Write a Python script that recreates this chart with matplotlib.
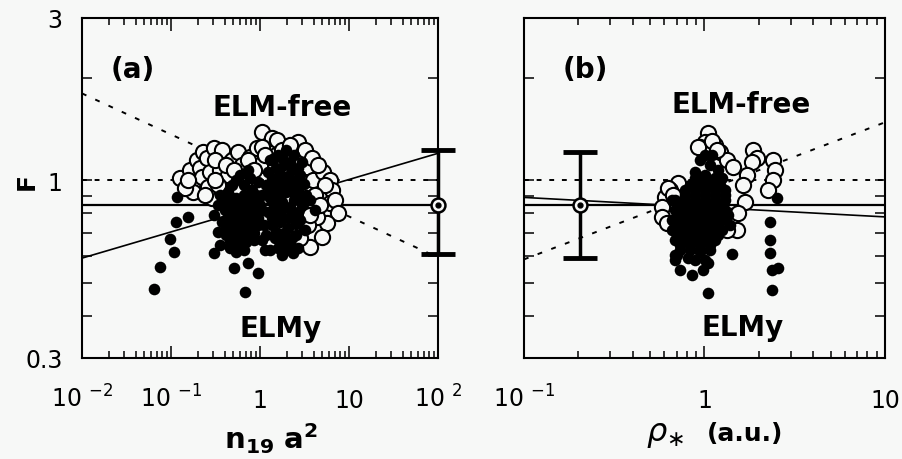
import numpy as np
import matplotlib.pyplot as plt
from matplotlib.ticker import FixedLocator, FixedFormatter, NullFormatter, LogLocator

# ---- panel (a): F vs n19 a^2 ----
a_open_x = [0.126, 0.163, 0.177, 0.177, 0.196, 0.212, 0.223, 0.229, 0.254, 0.26,
            0.274, 0.289, 0.304, 0.355, 0.374, 0.374, 0.437, 0.484, 0.566, 0.628,
            0.772, 0.925, 1.053, 1.23, 1.364, 1.513, 2.67, 3.37, 3.94, 5.1,
            6.12, 6.44, 6.12, 6.96, 7.52, 5.66, 4.37, 4.97, 3.65, 3.46,
            2.47, 2.35, 2.81, 2.01, 0.678, 0.537, 0.337, 0.1435, 1.0, 1.81,
            1.55, 1.053, 0.312, 0.415, 0.51, 0.733, 0.857, 1.137, 1.767, 2.173,
            3.2, 3.84, 4.49, 5.37, 4.15, 4.72, 3.65, 2.81, 0.46, 0.241,
            0.155, 0.312]
a_open_F = [1.014, 1.072, 0.988, 0.923, 1.146, 1.087, 1.021, 1.211, 1.161, 0.955,
            1.057, 0.887, 1.244, 1.072, 1.227, 0.923, 1.035, 1.146, 1.211, 1.108,
            1.17, 1.244, 1.386, 1.268, 1.33, 1.186, 1.295, 1.094, 1.0, 1.057,
            1.0, 0.935, 0.857, 0.875, 0.8, 0.748, 0.78, 0.681, 0.635, 0.738,
            0.754, 0.699, 0.828, 0.875, 1.0, 0.935, 0.968, 0.948, 1.108, 1.146,
            1.31, 1.256, 1.146, 1.108, 1.072, 1.146, 1.072, 1.186, 1.227, 1.268,
            1.227, 1.161, 1.108, 0.968, 0.904, 0.845, 0.79, 0.676, 0.875, 0.904,
            1.0, 1.0]

a_fill_x = [0.355, 0.437, 0.537, 0.661, 0.813, 0.95, 0.404, 0.497, 0.612, 0.752,
            0.925, 0.374, 0.46, 0.566, 0.696, 0.857, 1.053, 0.415, 0.51, 0.628,
            0.772, 0.95, 0.46, 0.566, 0.696, 0.857, 0.596, 0.733, 0.484, 1.053,
            0.337, 0.355, 0.304,
            0.394, 0.484, 0.596, 0.733, 0.902, 0.437, 0.537, 0.661, 0.813, 1.0,
            0.415, 0.51, 0.628, 0.772, 0.95, 0.46, 0.566, 0.696, 0.857, 0.537,
            0.661, 0.537, 0.661, 0.772, 0.437, 0.337,
            1.295, 1.593, 1.96, 2.41, 2.96, 1.23, 1.513, 1.861, 2.289, 2.81,
            1.167, 1.436, 1.767, 2.173, 2.67, 3.29, 1.295, 1.593, 1.96, 2.41,
            2.96, 1.23, 1.513, 1.861, 2.289, 2.81, 1.364, 1.678, 2.064, 2.54,
            1.474, 1.767, 2.173, 2.67, 1.295, 1.053, 1.109, 3.65, 4.15, 3.2,
            1.436, 1.767, 2.173, 2.67, 1.364, 1.678, 2.064, 2.54, 3.12, 1.295,
            1.593, 1.96, 2.41, 2.96, 1.436, 1.767, 2.173, 2.67, 1.364, 1.678,
            2.064, 2.54, 1.513, 1.861, 2.289, 1.96, 1.593, 1.167,
            0.117, 0.114, 0.155, 0.0975, 0.108, 0.0752, 0.0644, 0.304, 0.51, 0.733,
            0.678, 0.95, 1.137, 1.767, 2.35, 1.767]
a_fill_F = [0.904, 0.875, 0.887, 0.904, 0.935, 0.988, 0.817, 0.806, 0.828, 0.845,
            0.875, 0.754, 0.738, 0.754, 0.774, 0.79, 0.817, 0.69, 0.676, 0.699,
            0.713, 0.738, 0.631, 0.644, 0.658, 0.667, 1.035, 1.072, 0.968, 0.904,
            0.705, 0.644, 0.79,
            0.857, 0.845, 0.863, 0.887, 0.904, 0.78, 0.785, 0.8, 0.817, 0.845,
            0.718, 0.713, 0.728, 0.743, 0.774, 0.662, 0.676, 0.685, 0.699, 0.615,
            0.623, 1.0, 0.968, 1.014, 0.923, 0.845,
            1.146, 1.186, 1.227, 1.186, 1.13, 1.057, 1.087, 1.108, 1.072, 1.035,
            0.968, 0.988, 1.0, 0.968, 0.935, 0.904, 0.887, 0.904, 0.923, 0.875,
            0.845, 0.806, 0.817, 0.828, 0.79, 0.764, 0.738, 0.754, 0.723, 0.69,
            0.676, 0.667, 0.644, 0.631, 0.623, 0.667, 0.738, 0.875, 0.817, 0.713,
            1.161, 1.161, 1.13, 1.087, 1.014, 1.042, 1.028, 1.0, 0.975, 0.935,
            0.948, 0.955, 0.917, 0.893, 0.845, 0.863, 0.834, 0.806, 0.774, 0.79,
            0.774, 0.743, 0.705, 0.699, 0.676, 0.623, 0.631, 0.69,
            0.893, 0.754, 0.78, 0.672, 0.615, 0.556, 0.479, 0.611, 0.552, 0.571,
            0.469, 0.533, 0.623, 0.603, 0.611, 0.658]

a_fit_x, a_fit_F = [0.01, 100], [0.59, 1.20]
a_bound_x, a_bound_F = [0.01, 90], [1.80, 0.60]
a_err_x, a_err_F, a_err_lo, a_err_hi = 100, 0.845, 0.605, 1.23

# ---- panel (b): F vs rho* ----
b_open_x = [1.045, 1.007, 0.944, 1.143, 1.072, 1.218, 1.333, 1.438, 0.714, 0.644,
            0.604, 0.582, 0.582, 0.62, 1.856, 1.954, 2.397, 2.459, 2.397, 2.248,
            1.832, 1.718, 1.634, 1.675, 1.533, 1.513, 1.333, 0.92, 0.628, 0.67,
            1.1, 1.173]
b_open_F = [1.377, 1.295, 1.256, 1.268, 1.211, 1.211, 1.146, 1.094, 0.981, 0.935,
            0.893, 0.834, 0.78, 0.748, 1.227, 1.161, 1.146, 1.072, 1.0, 0.935,
            1.13, 1.035, 0.968, 0.863, 0.8, 0.713, 0.713, 1.256, 0.948, 0.904,
            1.30, 1.227]

b_fill_x = [0.944, 1.072, 1.188, 0.886, 1.007, 0.831, 0.944, 1.072, 1.218, 0.78,
            0.886, 1.007, 1.143, 1.3, 0.731, 0.831, 0.944, 1.072, 1.218, 0.714,
            0.811, 0.92, 1.045, 1.188, 1.349, 0.687, 0.78, 0.886, 1.007, 1.143,
            0.714, 0.811, 0.92, 1.045, 1.188, 0.731, 0.831, 0.944, 1.072, 0.687,
            0.811, 0.661, 1.384, 1.25,
            0.78, 0.886, 1.007, 1.143, 1.3,
            0.687, 0.78, 0.886, 1.007, 1.143, 1.3,
            0.687, 0.78, 0.886, 1.007, 1.143, 1.3,
            0.661, 0.75, 0.853, 0.969, 1.1, 1.25,
            0.661, 0.75, 0.853, 0.969, 1.1, 1.25,
            0.687, 0.78, 0.886, 1.007, 1.143,
            0.731, 0.831, 0.944, 1.072,
            0.687, 0.886, 1.007,
            1.007, 1.1,
            0.886, 1.007, 1.143,
            2.523, 2.306, 2.306, 2.306, 2.366, 2.555, 2.366, 1.42, 1.045, 0.944,
            1.045, 0.981, 0.853, 0.731, 0.705]
b_fill_F = [1.146, 1.108, 1.072, 1.057, 1.035, 0.968, 0.968, 0.968, 0.968, 0.904,
            0.904, 0.904, 0.904, 0.904, 0.845, 0.845, 0.845, 0.845, 0.845, 0.79,
            0.79, 0.79, 0.79, 0.79, 0.79, 0.738, 0.738, 0.738, 0.738, 0.738,
            0.69, 0.69, 0.69, 0.69, 0.69, 0.644, 0.644, 0.644, 0.644, 0.603,
            0.59, 0.875, 0.738, 1.014,
            0.935, 0.935, 0.935, 0.935, 0.935,
            0.875, 0.875, 0.875, 0.875, 0.875, 0.875,
            0.817, 0.817, 0.817, 0.817, 0.817, 0.817,
            0.764, 0.764, 0.764, 0.764, 0.764, 0.764,
            0.713, 0.713, 0.713, 0.713, 0.713, 0.713,
            0.667, 0.667, 0.667, 0.667, 0.667,
            0.623, 0.623, 0.623, 0.623,
            0.582, 0.582, 0.582,
            1.186, 1.186,
            1.014, 1.014, 1.014,
            0.887, 0.754, 0.667, 0.611, 0.545, 0.552, 0.475, 0.607, 0.466, 0.615,
            0.571, 0.545, 0.526, 0.545, 0.603]

b_fit_x, b_fit_F = [0.1, 10], [0.89, 0.78]
b_bound_x, b_bound_F = [0.1, 10], [0.585, 1.48]
b_err_x, b_err_F, b_err_lo, b_err_hi = 0.205, 0.845, 0.59, 1.21

F_mean = 0.845

a_ticks = [0.01, 0.1, 1, 10, 100]
a_labels = ['10 $^{-2}$', '10 $^{-1}$', '1', '10', '10 $^{2}$']
b_ticks = [0.1, 1, 10]
b_labels = ['10 $^{-1}$', '1', '10']

bg = '#f7f8f7'
plt.rcParams['font.family'] = 'DejaVu Sans'

fig = plt.figure(figsize=(9.02, 4.60), dpi=100, facecolor=bg)
ax1 = fig.add_axes([0.0909, 0.2196, 0.3947, 0.7391])
ax2 = fig.add_axes([0.5809, 0.2196, 0.4002, 0.7391])


def draw(ax, open_x, open_F, fill_x, fill_F, fit_x, fit_F, bnd_x, bnd_F,
         ex, eF, elo, ehi):
    ax.set_facecolor(bg)
    ax.axhline(1.0, color='k', lw=1.4, ls=(0, (2.5, 4)), zorder=1)
    ax.axhline(F_mean, color='k', lw=1.6, zorder=1)
    ax.plot(fit_x, fit_F, color='k', lw=1.2, zorder=1)
    ax.plot(bnd_x, bnd_F, color='k', lw=1.4, ls=(0, (2.5, 5)), zorder=1)
    ax.scatter(open_x, open_F, s=120, facecolor=bg, edgecolor='k', lw=1.5, zorder=2)
    ax.scatter(fill_x, fill_F, s=70, color='k', lw=0, zorder=3)
    eb = ax.errorbar([ex], [eF], yerr=[[eF - elo], [ehi - eF]], fmt='none',
                     ecolor='k', elinewidth=2.5, capsize=12.5, capthick=3.5, zorder=5)
    for art in list(eb.lines[1]) + list(eb.lines[2]):
        art.set_clip_on(False)
    ax.plot([ex], [eF], 'o', mfc=bg, mec='k', ms=10, mew=1.8, clip_on=False, zorder=6)
    ax.plot([ex], [eF], 'o', color='k', ms=3.5, clip_on=False, zorder=7)


draw(ax1, a_open_x, a_open_F, a_fill_x, a_fill_F, a_fit_x, a_fit_F,
     a_bound_x, a_bound_F, a_err_x, a_err_F, a_err_lo, a_err_hi)
draw(ax2, b_open_x, b_open_F, b_fill_x, b_fill_F, b_fit_x, b_fit_F,
     b_bound_x, b_bound_F, b_err_x, b_err_F, b_err_lo, b_err_hi)

for ax, xlim, ticks, labels in [(ax1, (0.01, 100), a_ticks, a_labels),
                                (ax2, (0.1, 10), b_ticks, b_labels)]:
    ax.set_xscale('log')
    ax.set_yscale('log')
    ax.set_xlim(xlim)
    ax.set_ylim(0.3, 3)
    ax.xaxis.set_major_locator(FixedLocator(ticks))
    ax.xaxis.set_major_formatter(FixedFormatter(labels))
    ax.xaxis.set_minor_locator(LogLocator(base=10, subs=np.arange(2, 10), numticks=20))
    ax.xaxis.set_minor_formatter(NullFormatter())
    ax.yaxis.set_major_locator(FixedLocator([0.3, 1, 3]))
    ax.yaxis.set_major_formatter(FixedFormatter(['0.3', '1', '3']))
    ax.yaxis.set_minor_locator(FixedLocator([0.4, 0.5, 0.6, 0.7, 0.8, 0.9, 2]))
    ax.yaxis.set_minor_formatter(NullFormatter())
    ax.tick_params(which='both', direction='in', top=True, right=True, width=1.1,
                   labelsize=17, colors='k')
    ax.tick_params(axis='x', which='major', length=9, pad=35)
    ax.tick_params(axis='x', which='minor', length=5)
    ax.tick_params(axis='y', which='both', length=7, pad=14)
    for sp in ax.spines.values():
        sp.set_linewidth(1.5)
    # all x tick labels share one baseline, as in the original
    plt.setp(ax.get_xticklabels(), va='baseline')

ax2.tick_params(axis='y', labelleft=False)

# panel annotations
txt = dict(fontweight='bold', fontsize=20, ha='center', va='baseline')
ax1.text(0.143, 0.826, '(a)', transform=ax1.transAxes, **txt)
ax1.text(0.561, 0.715, 'ELM-free', transform=ax1.transAxes, **txt)
ax1.text(0.559, 0.065, 'ELMy', transform=ax1.transAxes, **txt)
ax2.text(0.169, 0.826, '(b)', transform=ax2.transAxes, **txt)
ax2.text(0.601, 0.724, 'ELM-free', transform=ax2.transAxes, **txt)
ax2.text(0.607, 0.068, 'ELMy', transform=ax2.transAxes, **txt)

# axis labels
fig.text(0.030, 0.6065, 'F', fontweight='bold', fontsize=18,
         rotation=90, ha='center', va='center')
fig.text(0.300, 0.046, r'$\mathbf{n_{19}\ a^2}$', fontsize=21, ha='center', va='center')
fig.text(0.737, 0.056, r'$\rho_{\ast}$', fontsize=23, ha='center', va='center')
fig.text(0.826, 0.056, '(a.u.)', fontsize=18, fontweight='bold',
         ha='center', va='center')

fig.savefig('out.png', dpi=100, facecolor=bg)
